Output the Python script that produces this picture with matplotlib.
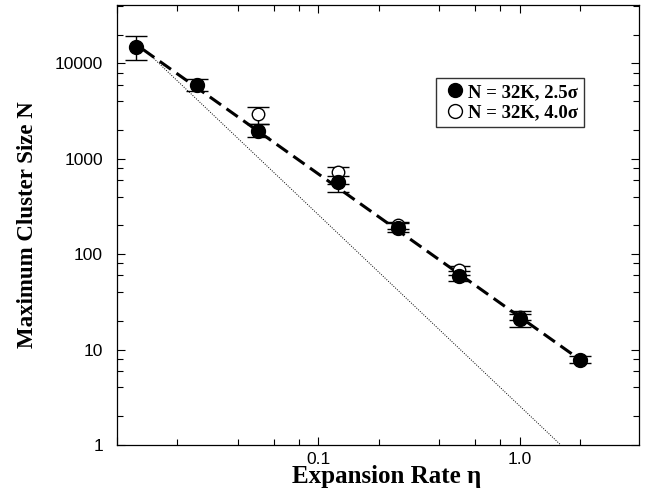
import numpy as np
import matplotlib.pyplot as plt
from matplotlib.lines import Line2D
from matplotlib.ticker import FixedLocator, NullFormatter

# filled circles: N = 32K, 2.5 sigma
eta_a = [0.0125, 0.025, 0.05, 0.125, 0.25, 0.5, 1.0, 2.0]
n_a = [14800, 5900, 1950, 567, 190, 58.6, 21.0, 7.85]
lo_a = [10900, 5090, 1690, 445, 170, 52.8, 17.4, 7.25]
hi_a = [19200, 6850, 2300, 667, 210, 67.3, 23.3, 8.6]

# open circles: N = 32K, 4.0 sigma
eta_b = [0.05, 0.125, 0.25, 0.5, 1.0]
n_b = [2970, 723, 203, 69.0, 22.0]
lo_b = [2340, 546, 185, 60.0, 20.3]
hi_b = [3480, 815, 215, 74.7, 25.1]

# guide lines (end points)
dash_x = [0.0135, 2.0]
dash_y = [14000, 7.8]
dot_x = [0.0138, 1.6]
dot_y = [13800, 1.0]

serif = ['Liberation Serif', 'DejaVu Serif']
sans = ['Liberation Sans', 'DejaVu Sans']

fig = plt.figure(figsize=(6.49, 5.01), dpi=100)
ax = fig.add_axes([0.180, 0.112, 0.805, 0.878])
ax.set_xscale('log')
ax.set_yscale('log')

ax.plot(dot_x, dot_y, color='black', lw=0.7, ls=(0, (1, 1.5)), zorder=1)
ax.plot(dash_x, dash_y, color='black', lw=2.2, ls=(0, (4.5, 2.2)), zorder=2)

yerr_b = [np.array(n_b) - np.array(lo_b), np.array(hi_b) - np.array(n_b)]
ax.errorbar(eta_b, n_b, yerr=yerr_b, fmt='o', ms=9, mfc='white', mec='black',
            mew=1.0, ecolor='black', elinewidth=1.0, capsize=8, capthick=1.0,
            zorder=3)
yerr_a = [np.array(n_a) - np.array(lo_a), np.array(hi_a) - np.array(n_a)]
ax.errorbar(eta_a, n_a, yerr=yerr_a, fmt='o', ms=10, mfc='black', mec='black',
            ecolor='black', elinewidth=1.0, capsize=8, capthick=1.0,
            zorder=4)

ax.set_xlim(0.0103, 3.93)
ax.set_ylim(1, 41000)

ax.set_xticks([0.01, 0.1, 1.0])
ax.set_xticklabels(['', '0.1', '1.0'])
xminor = [m * d for d in [0.01, 0.1, 1.0] for m in [2, 4, 6, 8]]
ax.xaxis.set_minor_locator(FixedLocator(xminor))
ax.xaxis.set_minor_formatter(NullFormatter())

ax.set_yticks([1, 10, 100, 1000, 10000])
ax.set_yticklabels(['1', '10', '100', '1000', '10000'])
yminor = [m * d for d in [1, 10, 100, 1000, 10000] for m in [2, 4, 6, 8]]
ax.yaxis.set_minor_locator(FixedLocator(yminor))
ax.yaxis.set_minor_formatter(NullFormatter())

ax.tick_params(which='both', direction='in', top=True, right=True, width=0.8)
ax.tick_params(which='major', length=6)
ax.tick_params(axis='y', which='major', pad=10)
ax.tick_params(axis='x', which='major', pad=5)
ax.tick_params(which='minor', length=4)
for lab in ax.get_xticklabels() + ax.get_yticklabels():
    lab.set_family(sans)
    lab.set_fontsize(12.5)

for s in ax.spines.values():
    s.set_linewidth(0.9)

ax.set_xlabel('Expansion Rate η', family=serif, fontweight='bold', fontsize=18, labelpad=-1)
ax.xaxis.label.set_x(0.517)
ax.set_ylabel('Maximum Cluster Size N', family=serif, fontweight='bold', fontsize=16.5, labelpad=12)

handles = [
    Line2D([], [], ls='none', marker='o', ms=10, mfc='black', mec='black'),
    Line2D([], [], ls='none', marker='o', ms=10, mfc='white', mec='black', mew=1.0),
]
labels = ['N = 32K, 2.5σ', 'N = 32K, 4.0σ']
leg = ax.legend(handles, labels, loc='upper left', bbox_to_anchor=(0.611, 0.834),
                prop={'family': serif, 'weight': 'bold', 'size': 13.5},
                frameon=True, fancybox=False, edgecolor='black', handlelength=1.4,
                handletextpad=0.0, borderpad=0.3, labelspacing=0.2, borderaxespad=0)
leg.get_frame().set_linewidth(1.0)

fig.savefig('out.png', dpi=100)
